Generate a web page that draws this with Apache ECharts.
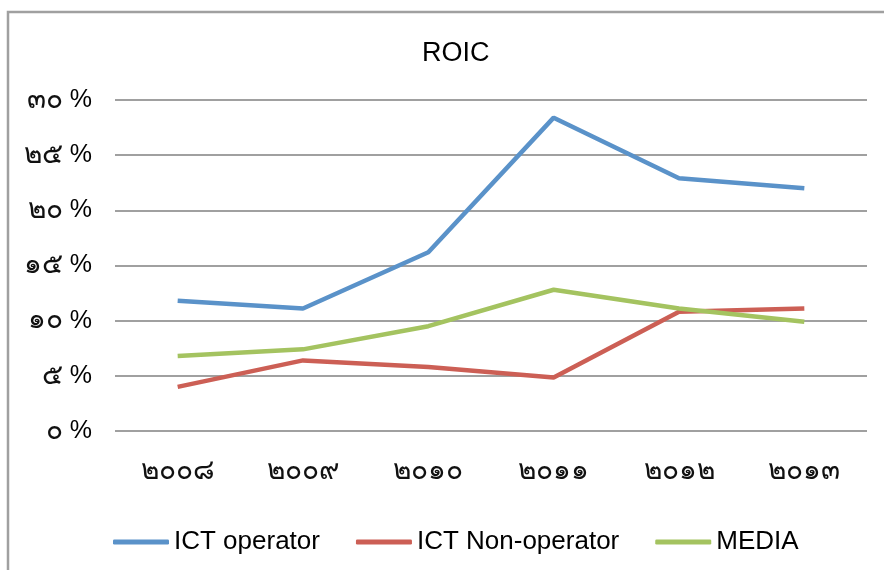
<!DOCTYPE html>
<html>
<head>
<meta charset="utf-8">
<script src="https://cdn.jsdelivr.net/npm/echarts@6/dist/echarts.min.js"></script>
<style>
  html, body { margin: 0; padding: 0; background: #fff; }
  #main { width: 884px; height: 570px; }
</style>
</head>
<body>
<div id="main"></div>
<script>
// ปี (พ.ศ. เลขไทย)
var years = ['๒๐๐๘', '๒๐๐๙', '๒๐๑๐', '๒๐๑๑', '๒๐๑๒', '๒๐๑๓'];
var yTicks = ['๐', '๕', '๑๐', '๑๕', '๒๐', '๒๕', '๓๐'];

var ictOperator = [11.8, 11.1, 16.2, 28.4, 22.9, 22.0];
var ictNonOperator = [4.0, 6.4, 5.8, 4.85, 10.8, 11.1];
var media = [6.8, 7.4, 9.5, 12.8, 11.1, 9.9];

var font = 'Liberation Sans, Arial, sans-serif';

var dom = document.getElementById('main');
var myChart = echarts.init(dom);

function lineSeries(name, data, color) {
    return {
        name: name,
        type: 'line',
        data: data,
        symbol: 'none',
        lineStyle: { width: 4.5, color: color },
        itemStyle: { color: color }
    };
}

var thai = { fontFamily: font, fontSize: 28, fontWeight: 500, color: '#111' };

var option = {
    animation: false,
    title: {
        text: 'ROIC',
        left: 417,
        top: 35,
        textStyle: { fontFamily: font, fontSize: 27, fontWeight: 'normal', color: '#000' }
    },
    graphic: [{
        type: 'rect',
        shape: { x: 8, y: 12, width: 900, height: 600 },
        style: { fill: 'none', stroke: '#a0a0a0', lineWidth: 2.5 },
        silent: true
    }],
    legend: {
        bottom: 10,
        left: 108,
        itemWidth: 56,
        itemHeight: 5,
        itemGap: 36,
        icon: 'roundRect',
        textStyle: { fontFamily: font, fontSize: 26, color: '#000' },
        data: ['ICT operator', 'ICT Non-operator', 'MEDIA']
    },
    grid: { left: 115, right: 17, top: 100, bottom: 139 },
    xAxis: {
        type: 'category',
        data: years,
        axisLine: { show: false },
        axisTick: { show: false },
        axisLabel: {
            margin: 26,
            formatter: function (v) { return '{t|' + v + '}'; },
            rich: { t: thai }
        }
    },
    yAxis: {
        type: 'value',
        min: 0,
        max: 30,
        interval: 5,
        axisLine: { show: false },
        axisTick: { show: false },
        splitLine: { lineStyle: { color: '#a0a0a0', width: 2 } },
        axisLabel: {
            margin: 23,
            formatter: function (v) { return '{t|' + yTicks[Math.round(v / 5)] + '}{p| %}'; },
            rich: {
                t: thai,
                p: { fontFamily: font, fontSize: 25, color: '#000' }
            }
        }
    },
    series: [
        lineSeries('ICT operator', ictOperator, '#5a92c9'),
        lineSeries('ICT Non-operator', ictNonOperator, '#cc5f55'),
        lineSeries('MEDIA', media, '#a4c360')
    ]
};

myChart.setOption(option, true);
</script>
</body>
</html>
